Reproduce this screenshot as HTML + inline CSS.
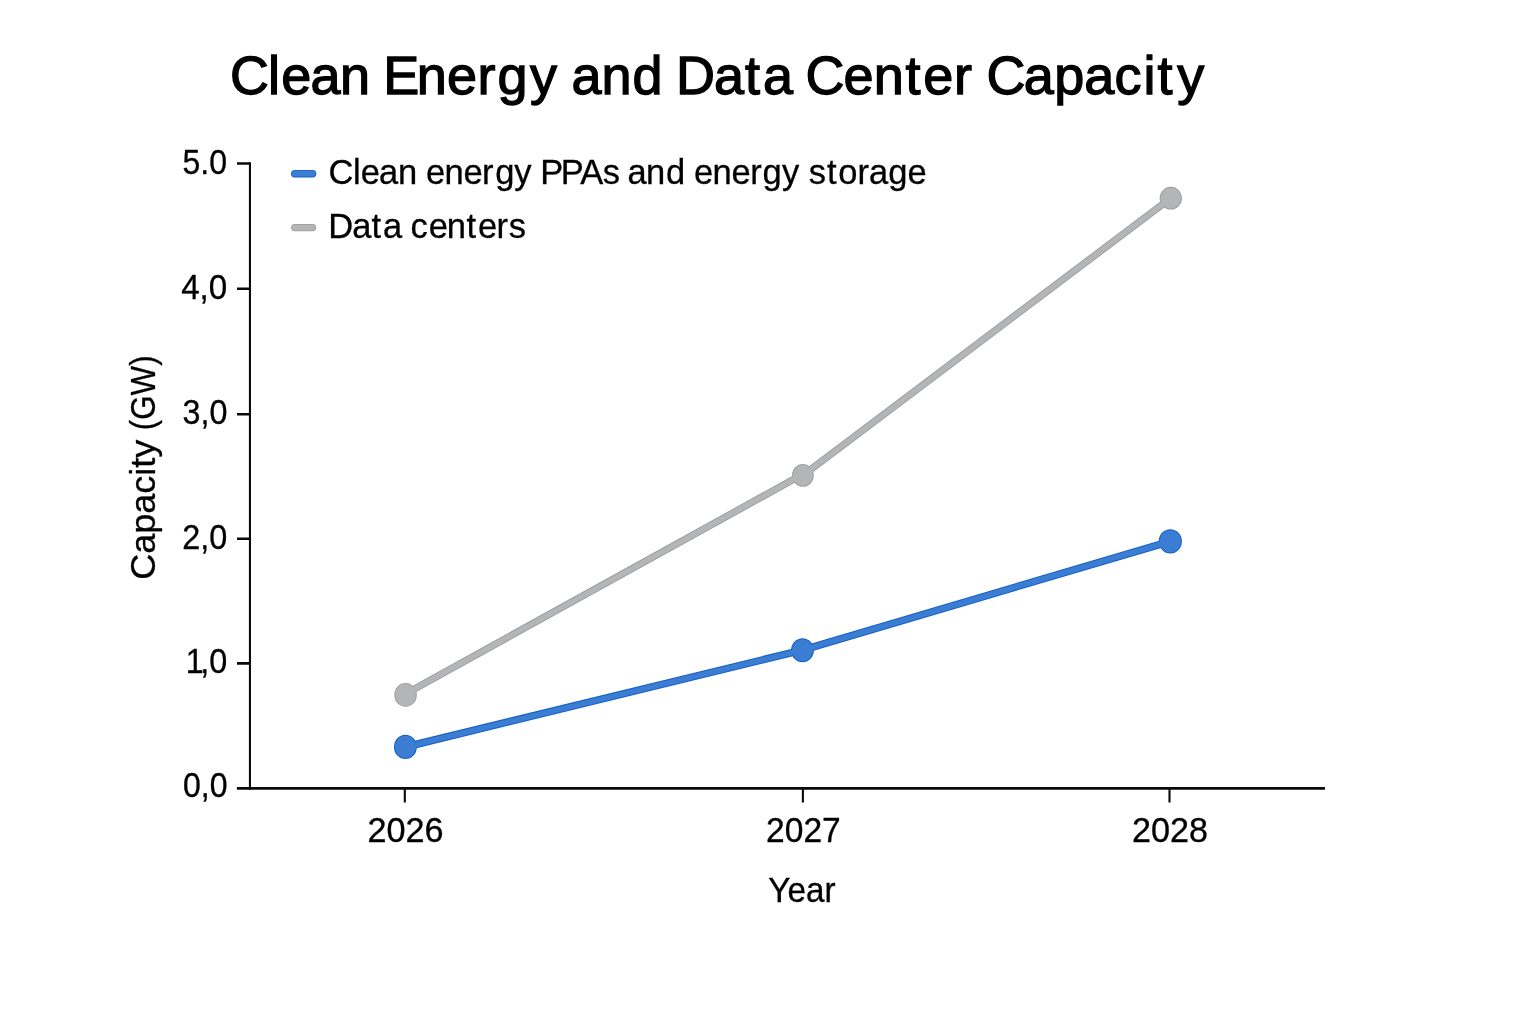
<!DOCTYPE html>
<html lang="en">
<head>
<meta charset="utf-8">
<title>Clean Energy and Data Center Capacity</title>
<style>
  html, body { margin: 0; padding: 0; background: #ffffff; }
  body { width: 1536px; height: 1024px; overflow: hidden; font-family: "Liberation Sans", sans-serif; }
  svg { display: block; }
  text { font-family: "Liberation Sans", sans-serif; fill: #000000; }
  .title { font-size: 54.0px; stroke: #000000; stroke-width: 1.3px; }
  .lbl { font-size: 34.5px; stroke: #000000; stroke-width: 0.3px; }
  .vline { stroke: #0a0a0a; stroke-width: 2.1; fill: none; }
  .hline { stroke: #0a0a0a; stroke-width: 2.6; fill: none; }
</style>
</head>
<body>
<svg width="1536" height="1024" viewBox="0 0 1536 1024">
  <rect x="0" y="0" width="1536" height="1024" fill="#ffffff"/>

  <!-- Chart title -->
  <text class="title" y="93.85">
    <tspan x="230.1 267.9 281.2 310.6 340.1">Clean</tspan>
    <tspan x="383.2 416.8 446.9 477.5 497.6 529.9">Energy</tspan>
    <tspan x="571.5 601.6 632.6">and</tspan>
    <tspan x="676.1 714.1 745.0 763.0">Data</tspan>
    <tspan x="805.5 843.5 873.7 905.5 923.2 953.9">Center</tspan>
    <tspan x="986.4 1023.7 1054.2 1084.2 1114.5 1143.4 1157.6 1177.3">Capacity</tspan>
  </text>

  <!-- Axes -->
  <path class="vline" d="M249.95 162.2 V789.7"/>
  <path class="hline" d="M236.9 788.4 H1325"/>
  <path class="hline" d="M237 163.55 H250 M237 288.7 H250 M237 414.25 H250 M237 538.7 H250 M237 663.4 H250"/>
  <path class="vline" d="M404.8 788.4 V802.5 M802.9 788.4 V802.5 M1169.5 788.4 V802.5"/>

  <!-- Y axis tick labels -->
  <text class="lbl" x="182.46" y="174" textLength="44.55" lengthAdjust="spacingAndGlyphs">5.0</text>
  <text class="lbl" x="181.15" y="299.1" textLength="46.15" lengthAdjust="spacingAndGlyphs">4,0</text>
  <text class="lbl" x="182.52" y="424.0" textLength="44.83" lengthAdjust="spacingAndGlyphs">3,0</text>
  <text class="lbl" x="182.34" y="548.9" textLength="44.96" lengthAdjust="spacingAndGlyphs">2,0</text>
  <text class="lbl" transform="translate(182.34 672.8) scale(0.9375 1)" x="3.63 19.18 28.77">1,0</text>
  <text class="lbl" x="183.06" y="797.3" textLength="44.56" lengthAdjust="spacingAndGlyphs">0,0</text>

  <!-- X axis tick labels -->
  <text class="lbl" x="367.44" y="842" textLength="76.16" lengthAdjust="spacingAndGlyphs">2026</text>
  <text class="lbl" x="766.08" y="842" textLength="74.67" lengthAdjust="spacingAndGlyphs">2027</text>
  <text class="lbl" x="1132.08" y="842" textLength="75.99" lengthAdjust="spacingAndGlyphs">2028</text>

  <!-- Axis titles -->
  <text class="lbl" x="768.25" y="901.9" textLength="67.28" lengthAdjust="spacingAndGlyphs">Year</text>
  <text class="lbl" transform="translate(154.8 580) rotate(-90)">
    <tspan x="0.25" textLength="140.09" lengthAdjust="spacingAndGlyphs">Capacity</tspan>
    <tspan x="149.85" textLength="74.77" lengthAdjust="spacingAndGlyphs">(GW)</tspan>
  </text>

  <!-- Legend -->
  <g fill="none" stroke-linecap="round">
    <line x1="294.8" y1="173.7" x2="312.5" y2="173.7" stroke="#1560c9" stroke-width="7.6"/>
    <line x1="294.8" y1="173.7" x2="312.5" y2="173.7" stroke="#3a7dd2" stroke-width="5.8"/>
    <line x1="294.8" y1="227.6" x2="312.5" y2="227.6" stroke="#9c9d9e" stroke-width="7.4"/>
    <line x1="294.8" y1="227.6" x2="312.5" y2="227.6" stroke="#b4b5b7" stroke-width="5.6"/>
  </g>
  <text class="lbl" y="183.8">
    <tspan x="328.6 353.1 360.7 379.0 397.9">Clean</tspan>
    <tspan x="426.1 444.5 463.5 482.1 495.2 514.2">energy</tspan>
    <tspan x="540.2 560.8 580.3 602.8">PPAs</tspan>
    <tspan x="627.5 646.0 665.9">and</tspan>
    <tspan x="694.1 712.5 731.5 750.3 762.6 782.0">energy</tspan>
    <tspan x="808.8 827.0 838.3 857.5 868.9 888.3 907.6">storage</tspan>
  </text>
  <text class="lbl" y="238.4">
    <tspan x="328.3 352.2 371.5 382.9">Data</tspan>
    <tspan x="410.6 428.7 446.7 466.6 478.0 496.6 508.8">centers</tspan>
  </text>

  <!-- Series: Data centers -->
  <g stroke="#9c9d9e" fill="#9c9d9e" stroke-linecap="round" stroke-linejoin="round">
    <path d="M405.5 693.9 L802.9 474.2 M802.9 475.3 L1170.8 198.2" fill="none" stroke-width="7.2"/>
    <ellipse cx="405.55" cy="694.9" rx="11.25" ry="11.9" stroke="none"/>
    <ellipse cx="802.9" cy="475.35" rx="10.85" ry="11.45" stroke="none"/>
    <ellipse cx="1170.8" cy="198.2" rx="11.15" ry="11.4" stroke="none"/>
  </g>
  <g stroke="#b4b5b7" fill="#b4b5b7" stroke-linecap="round" stroke-linejoin="round">
    <path d="M405.5 693.9 L802.9 474.2 M802.9 475.3 L1170.8 198.2" fill="none" stroke-width="5.4"/>
    <ellipse cx="405.55" cy="694.9" rx="10.35" ry="11" stroke="none"/>
    <ellipse cx="802.9" cy="475.35" rx="9.95" ry="10.55" stroke="none"/>
    <ellipse cx="1170.8" cy="198.2" rx="10.25" ry="10.5" stroke="none"/>
  </g>

  <!-- Series: Clean energy PPAs and energy storage -->
  <g stroke="#1560c9" fill="#1560c9" stroke-linecap="round" stroke-linejoin="round">
    <path d="M405.4 747 L802.5 650.1 L1170.3 541.3" fill="none" stroke-width="7.5"/>
    <ellipse cx="405.4" cy="746.95" rx="11.45" ry="12.15" stroke="none"/>
    <ellipse cx="802.5" cy="650.25" rx="11.4" ry="12.05" stroke="none"/>
    <ellipse cx="1170.3" cy="541.3" rx="11.6" ry="12.15" stroke="none"/>
  </g>
  <g stroke="#3a7dd2" fill="#3a7dd2" stroke-linecap="round" stroke-linejoin="round">
    <path d="M405.4 747 L802.5 650.1 L1170.3 541.3" fill="none" stroke-width="5.5"/>
    <ellipse cx="405.4" cy="746.95" rx="10.45" ry="11.15" stroke="none"/>
    <ellipse cx="802.5" cy="650.25" rx="10.4" ry="11.05" stroke="none"/>
    <ellipse cx="1170.3" cy="541.3" rx="10.6" ry="11.15" stroke="none"/>
  </g>
</svg>
</body>
</html>
